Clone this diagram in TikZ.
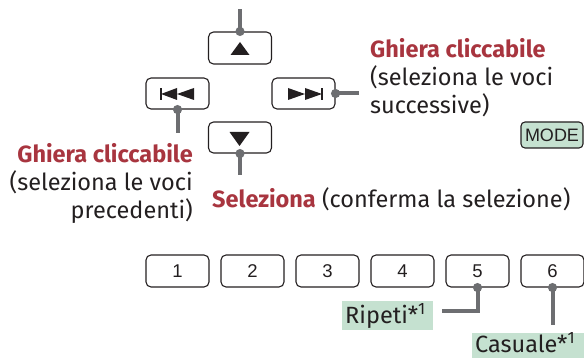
\documentclass[tikz,border=0pt]{standalone}
\usepackage{fontspec}
\setmainfont{Fira Sans}
\newfontfamily\arialf{Liberation Sans}
\definecolor{lblred}{HTML}{A8353F}
\definecolor{conngray}{HTML}{6D6E71}
\definecolor{tagfill}{HTML}{C5E1D0}
\definecolor{ink}{HTML}{231F20}
\begin{document}
\begin{tikzpicture}[x=1pt,y=-1pt,
  btn/.style={draw=ink, line width=1.1pt, rounded corners=5pt, minimum width=63pt,
    minimum height=31pt, inner sep=0pt, font=\arialf\fontsize{18.5}{20}\selectfont, text=ink},
  conn/.style={draw=conngray, line width=4pt},
  dot/.style={fill=conngray},
  body/.style={font=\fontsize{23.5}{28}\selectfont, inner sep=0pt, text=ink},
  red/.style={font=\fontseries{sb}\selectfont\fontsize{23.5}{28}\selectfont, inner sep=0pt, text=lblred},
  tag/.style={fill=tagfill, inner sep=0pt, font=\fontsize{23.5}{28}\selectfont, text=ink},
  icon/.style={fill=ink}]
\useasboundingbox (0,0) rectangle (584,358);

% arrow buttons
\node[btn, minimum height=32pt] (up) at (240,48) {};
\node[btn] (prev) at (177.5,93.5) {};
\node[btn] (next) at (303.5,93.5) {};
\node[btn] (down) at (240,137.5) {};

% icons
\fill[icon] (230.5,55) -- (249.5,55) -- (240,42) -- cycle;
\fill[icon] (229.5,132) -- (249.5,132) -- (239.5,146) -- cycle;
\fill[icon] (160,88) rectangle (162,100);
\fill[icon] (161,94) -- (177,88) -- (177,100) -- cycle;
\fill[icon] (177,94) -- (194,88) -- (194,100) -- cycle;
\fill[icon] (321,88) rectangle (323,100);
\fill[icon] (322,94) -- (305,88) -- (305,100) -- cycle;
\fill[icon] (305,94) -- (288,88) -- (288,100) -- cycle;

% MODE
\node[draw=ink, line width=1.1pt, rounded corners=4pt, fill=tagfill, minimum width=62pt,
  minimum height=26pt, inner sep=0pt, font=\arialf\fontsize{18}{20}\selectfont, text=ink]
  (mode) at (552,135) {MODE};

% number buttons
\foreach \i in {1,...,6} {
  \node[btn, minimum height=32pt] (b\i) at ({177.5+75*(\i-1)},271) {\i};
}

% connector ends
\coordinate (upend) at (240,9);
\coordinate (prevend) at (177.5,133);
\coordinate (nextend) at (359,93.5);
\coordinate (downend) at (240,175);
\coordinate (fivecorner) at (477.5,311);
\coordinate (fiveend) at (442,311);
\coordinate (sixend) at (552.5,325);

\draw[conn] (up.north) -- (upend);
\draw[conn] (prev.south) -- (prevend);
\draw[conn] (next.east) -- (nextend);
\draw[conn] (down.south) -- (downend);
\draw[conn] (b5.south) -- (fivecorner) -- (fiveend);
\draw[conn] (b6.south) -- (sixend);
\foreach \n/\a in {up/north, prev/south, next/east, down/south, b5/south, b6/south}
  \fill[dot] (\n.\a) circle (4.6pt);

% right label
\node[red, anchor=base west] (rt1) at (370,58) {Ghiera cliccabile};
\node[body, anchor=base west] (rt2) at (370,86) {(seleziona le voci};
\node[body, anchor=base west] (rt3) at (370,113.5) {successive)};

% left label
\node[red, anchor=base east] (lt1) at (193,163) {Ghiera cliccabile};
\node[body, anchor=base east] (lt2) at (193,191) {(seleziona le voci};
\node[body, anchor=base east] (lt3) at (193,218.5) {precedenti)};

% bottom label
\node[body, anchor=base west] (sel) at (212,208) {\textcolor{lblred}{\fontseries{sb}\selectfont Seleziona} (conferma la selezione)};

% tags
\node[tag, minimum width=91pt, minimum height=29pt] (rip) at (387.5,315.5) {};
\node[tag, anchor=base west, fill=none] (riptxt) at (345,323.5) {Ripeti*\textsuperscript{1}};
\node[tag, minimum width=112pt, minimum height=30pt] (cas) at (528,348) {};
\node[tag, anchor=base west, fill=none] (castxt) at (475,352.5) {Casuale*\textsuperscript{1}};
\end{tikzpicture}
\end{document}
